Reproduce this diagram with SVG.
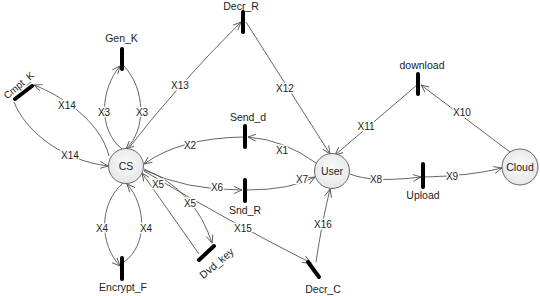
<svg xmlns="http://www.w3.org/2000/svg" width="540" height="296" viewBox="0 0 540 296">
<style>
text{font-family:"Liberation Sans",Arial,sans-serif;fill:#222}
.nl{font-size:10.5px;text-anchor:middle}
.xl{font-size:10px;text-anchor:middle;stroke:#fff;stroke-width:3;paint-order:stroke;stroke-linejoin:round}
.c{fill:url(#g);stroke:#666;stroke-width:1}
.bar{stroke:#000;stroke-width:4;stroke-linecap:round}
.e{fill:none;stroke:#555;stroke-width:0.9;marker-end:url(#a)}
</style>
<defs>
<radialGradient id="g" cx="0.5" cy="0.45" r="0.6"><stop offset="0" stop-color="#fcfcfc"/><stop offset="1" stop-color="#e4e4e4"/></radialGradient>
<marker id="a" markerWidth="9" markerHeight="8" refX="8" refY="4" orient="auto" markerUnits="userSpaceOnUse"><path d="M0,0.5 L8,4 L0,7.5" fill="none" stroke="#555" stroke-width="0.9"/></marker>
</defs>
<rect width="540" height="296" fill="#fff"/>
<g id="connectors">
<path class="e" d="M109,156 C100,120 60,95 34,85"/>
<path class="e" d="M14,102 C25,130 60,160 108,166"/>
<path class="e" d="M122,149 C98,130 100,90 120,66"/>
<path class="e" d="M124,66 C146,90 146,130 126,149"/>
<path class="e" d="M123,183 C98,205 100,245 120,266"/>
<path class="e" d="M124,262 C148,245 146,205 127,184"/>
<path class="e" d="M128,149 Q175,88 241,22"/>
<path class="e" d="M246,22 L330,154"/>
<path class="e" d="M417,85 L335,155"/>
<path class="e" d="M510,152 L421,85"/>
<path class="e" d="M243,137 Q180,138 144,164"/>
<path class="e" d="M316,163 Q285,140 248,137"/>
<path class="e" d="M144,170 Q185,190 242,190"/>
<path class="e" d="M247,190 Q290,190 315,177"/>
<path class="e" d="M199,254 L142,173"/>
<path class="e" d="M144,169 Q195,190 212,243"/>
<path class="e" d="M144,171 Q230,222 311,263"/>
<path class="e" d="M316,262 Q322,222 330,189"/>
<path class="e" d="M350,174 Q372,183 421,177"/>
<path class="e" d="M425,177 Q470,176 502,168"/>
</g>
<g id="connector-labels">
<text class="xl" x="67" y="108.5">X14</text>
<text class="xl" x="70" y="158.5">X14</text>
<text class="xl" x="104" y="115.5">X3</text>
<text class="xl" x="142" y="115.5">X3</text>
<text class="xl" x="102" y="231.5">X4</text>
<text class="xl" x="146" y="231.5">X4</text>
<text class="xl" x="180" y="88.5">X13</text>
<text class="xl" x="285" y="91.5">X12</text>
<text class="xl" x="366" y="129.5">X11</text>
<text class="xl" x="462" y="115.5">X10</text>
<text class="xl" x="190" y="148.5">X2</text>
<text class="xl" x="282" y="153.5">X1</text>
<text class="xl" x="217" y="190.5">X6</text>
<text class="xl" x="302" y="182.5">X7</text>
<text class="xl" x="158" y="187.5">X5</text>
<text class="xl" x="190" y="206.5">X5</text>
<text class="xl" x="243" y="231.5">X15</text>
<text class="xl" x="323" y="227.5">X16</text>
<text class="xl" x="376" y="182.5">X8</text>
<text class="xl" x="452" y="179.5">X9</text>
</g>
<g id="CS"><circle class="c" cx="126" cy="166" r="17.5"/><text class="nl" x="126" y="170">CS</text></g>
<g id="User"><circle class="c" cx="332" cy="171" r="17.5"/><text class="nl" x="332" y="175">User</text></g>
<g id="Cloud"><circle class="c" cx="520" cy="167" r="18"/><text class="nl" x="520" y="171">Cloud</text></g>
<g id="Gen_K"><line class="bar" x1="122" y1="49" x2="122" y2="69"/><text class="nl" x="121.5" y="42">Gen_K</text></g>
<g id="Decr_R"><line class="bar" x1="243" y1="12" x2="243" y2="32"/><text class="nl" x="241" y="9.5">Decr_R</text></g>
<g id="Cmpt_K"><line class="bar" x1="15" y1="99" x2="32" y2="86"/><text class="nl" x="21" y="88" font-size="10" transform="rotate(-40 21 88)" style="font-size:10px">Cmpt_K</text></g>
<g id="Send_d"><line class="bar" x1="245" y1="126" x2="245" y2="147"/><text class="nl" x="248" y="121">Send_d</text></g>
<g id="Snd_R"><line class="bar" x1="245" y1="180" x2="245" y2="201"/><text class="nl" x="245" y="214">Snd_R</text></g>
<g id="Encrypt_F"><line class="bar" x1="122" y1="258" x2="122" y2="279"/><text class="nl" x="123" y="291">Encrypt_F</text></g>
<g id="Dvd_key"><line class="bar" x1="199" y1="260" x2="214" y2="246"/><text class="nl" x="219" y="266" transform="rotate(-40 219 266)">Dvd_key</text></g>
<g id="download"><line class="bar" x1="418" y1="74" x2="418" y2="94"/><text class="nl" x="422" y="69">download</text></g>
<g id="Upload"><line class="bar" x1="423" y1="164" x2="423" y2="187"/><text class="nl" x="423" y="199">Upload</text></g>
<g id="Decr_C"><line class="bar" x1="308" y1="262" x2="319" y2="277"/><text class="nl" x="323" y="293">Decr_C</text></g>
</svg>
